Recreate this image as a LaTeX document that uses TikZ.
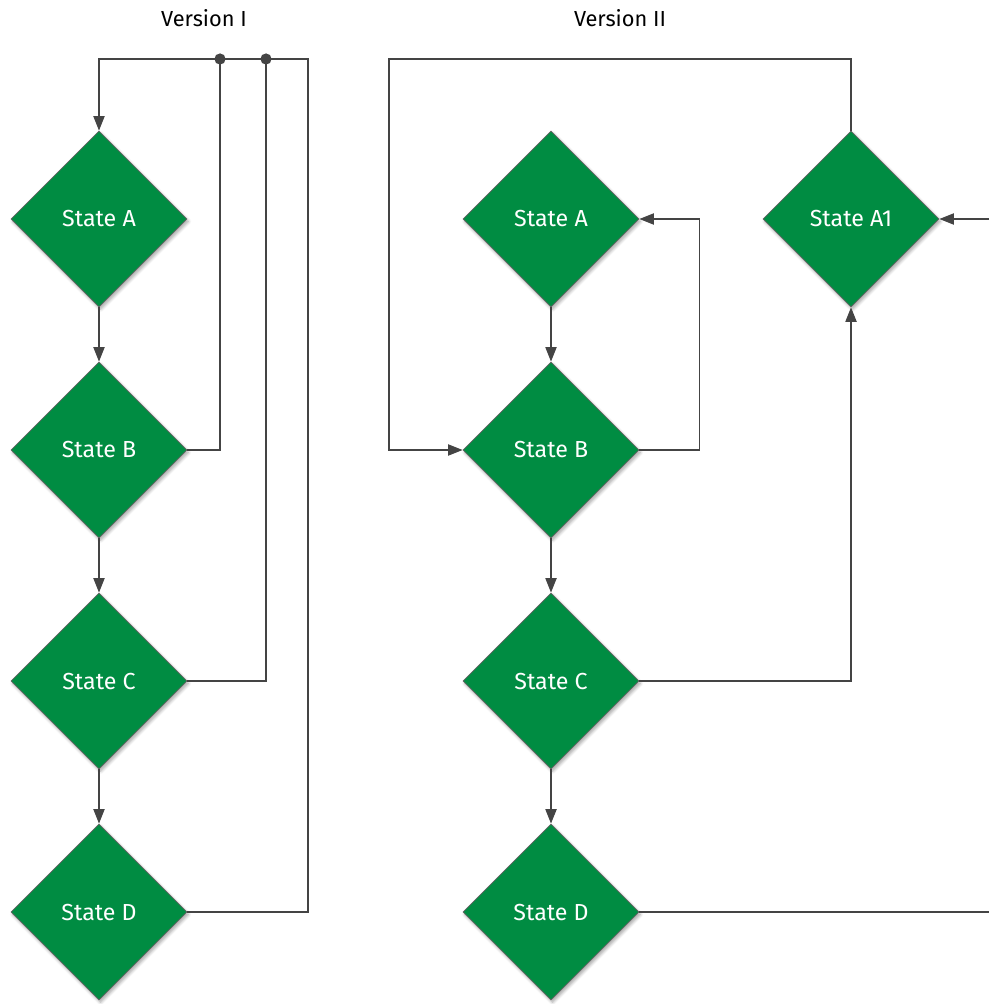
\documentclass[tikz,border=0pt]{standalone}
\usepackage{fontspec}
\setmainfont{Fira Sans}
\usetikzlibrary{positioning,arrows.meta,calc,shapes.geometric,shadows.blur}
\definecolor{stategreen}{RGB}{0,140,66}
\definecolor{stateedge}{RGB}{100,100,100}
\definecolor{linegrey}{RGB}{68,68,68}
\tikzset{
  fig/.style={font=\fontsize{16.5}{19}\selectfont},
  state/.style={diamond,aspect=1,draw=stateedge,line width=0.5pt,fill=stategreen,
                text=white,minimum size=4.4cm,inner sep=0pt,
                blur shadow={shadow xshift=0.4mm,shadow yshift=-0.6mm,
                             shadow opacity=35,shadow blur steps=6}},
  ln/.style={-{Triangle[length=3.6mm,width=2.8mm]},line width=0.8pt,draw=linegrey},
  wire/.style={line width=0.8pt,draw=linegrey},
  dot/.style={circle,fill=linegrey,inner sep=0pt,minimum size=2.8mm},
  title/.style={font=\fontsize{15.5}{18}\selectfont},
}
\begin{document}
\begin{tikzpicture}[fig,x=0.025cm,y=-0.025cm]
\useasboundingbox (0,0) rectangle (989,1004);

% =======================  LEFT: Version I  =====================
\node[title] (vI) at (204,18) {Version I};
\node[state] (aI) at (99,219) {State A};
\node[state] (bI) at (99,450) {State B};
\node[state] (cI) at (99,681) {State C};
\node[state] (dI) at (99,912) {State D};

\coordinate (topI) at (308,59);
\node[dot] (jI1) at (220,59) {};
\node[dot] (jI2) at (266,59) {};

\draw[ln] (aI) -- (bI);
\draw[ln] (bI) -- (cI);
\draw[ln] (cI) -- (dI);
\draw[ln] (dI.east) -| (topI) -| (aI.north);
\draw[wire] (bI.east) -| (jI1.center);
\draw[wire] (cI.east) -| (jI2.center);

% =======================  RIGHT: Version II  ====================
\node[title] (vII) at (620,18) {Version II};
\node[state] (aII) at (551,219) {State A};
\node[state] (bII) at (551,450) {State B};
\node[state] (cII) at (551,681) {State C};
\node[state] (dII) at (551,912) {State D};
\node[state] (a1)  at (851,219) {State A1};

\coordinate (topII) at (389,59);
\coordinate (inA1) at (989,219);
\coordinate (outD) at (989,912);

\draw[ln] (aII) -- (bII);
\draw[ln] (bII) -- (cII);
\draw[ln] (cII) -- (dII);
\draw[ln] (bII.east) -- ++(60,0) |- (aII.east);
\draw[ln] (a1.north) |- (topII) |- (bII.west);
\draw[ln] (cII.east) -| (a1.south);
\draw[ln] (inA1) -- (a1.east);
\draw[wire] (dII.east) -- (outD);

\end{tikzpicture}
\end{document}
